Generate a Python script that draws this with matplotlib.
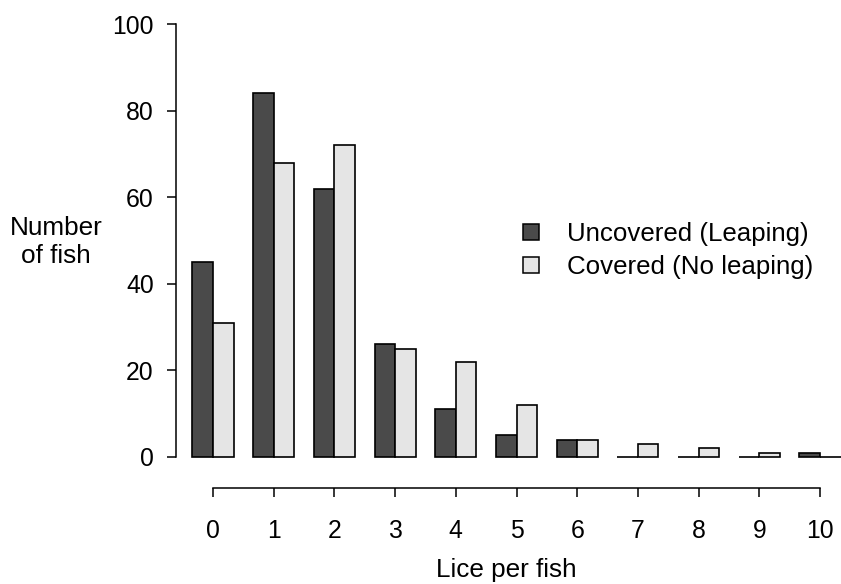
import matplotlib
matplotlib.use('Agg')
import matplotlib.pyplot as plt
import numpy as np
from matplotlib.patches import Patch

plt.rcParams['font.family'] = ['Liberation Sans', 'DejaVu Sans']

lice = [0, 1, 2, 3, 4, 5, 6, 7, 8, 9, 10]
uncovered = [45, 84, 62, 26, 11, 5, 4, 0, 0, 0, 1]
covered = [31, 68, 72, 25, 22, 12, 4, 3, 2, 1, 0]
labels = ['Uncovered (Leaping)', 'Covered (No leaping)']
colors = ['#4a4a4a', '#e5e5e5']

W, H = 841, 584
fig = plt.figure(figsize=(W / 100, H / 100), dpi=100)
ax = fig.add_axes([176 / W, 1 - 457 / H, (836 - 176) / W, (457 - 24) / H])

x = np.array(lice)
w = 0.338
ax.bar(x - w, uncovered, width=w, align='edge', color=colors[0],
       edgecolor='black', linewidth=1.2, clip_on=False)
ax.bar(x, covered, width=w, align='edge', color=colors[1],
       edgecolor='black', linewidth=1.2, clip_on=False)

ax.set_xlim(-37 / 60.7, 623 / 60.7)
ax.set_ylim(0, 100)

for s in ['top', 'right']:
    ax.spines[s].set_visible(False)
ax.spines['left'].set_bounds(0, 100)
ax.spines['bottom'].set_bounds(0, 10)
ax.spines['bottom'].set_position(('outward', 22))
for s in ['left', 'bottom']:
    ax.spines[s].set_linewidth(1.1)

ax.set_yticks(range(0, 101, 20))
ax.set_xticks(lice)
ax.tick_params(axis='y', length=6.5, width=1.1, pad=9.5, labelsize=17.8)
ax.tick_params(axis='x', length=6.5, width=1.1, pad=16, labelsize=17.8)

ax.set_xlabel('Lice per fish', fontsize=18.8, labelpad=11)
fig.text(56 / W, 1 - 242 / H, 'Number\nof fish', fontsize=18.8,
         ha='center', va='center', multialignment='center')

handles = [Patch(facecolor=c, edgecolor='black', linewidth=1.1) for c in colors]
ax.legend(handles, labels, loc='upper left', frameon=False, fontsize=18.6,
          bbox_to_anchor=(523 / W, 1 - 222 / H), bbox_transform=fig.transFigure,
          borderpad=0, borderaxespad=0, handlelength=0.6, handleheight=0.6,
          handletextpad=1.1, labelspacing=0.35)

fig.savefig('out.png', dpi=100)
